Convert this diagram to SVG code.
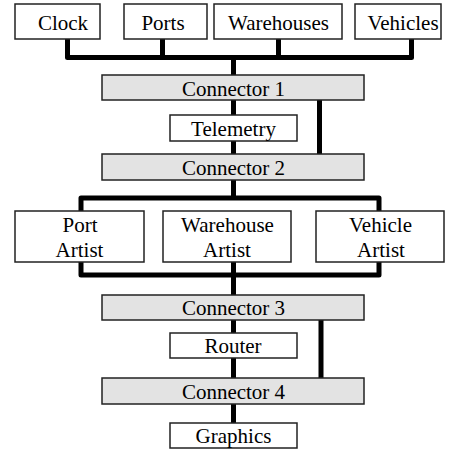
<svg xmlns="http://www.w3.org/2000/svg" width="452" height="452" viewBox="0 0 452 452">
<style>
.box{fill:#fff;stroke:#222;stroke-width:1.5}
.conn{fill:#e3e3e3;stroke:#222;stroke-width:1.5}
.ln{fill:none;stroke:#000;stroke-width:5;stroke-linejoin:round}
.t{font-family:"Liberation Serif","Times New Roman",serif;font-size:21px;text-anchor:middle;fill:#000}
</style>
<rect width="452" height="452" fill="#fff"/>
<g id="connectors">
<path class="ln" d="M67.5,39 V57.5 H411.5 V39 M162.5,39 V57.5 M278.5,39 V57.5 M233.5,57.5 V75"/>
<path class="ln" d="M233.5,100 V115 M233.5,141 V154 M319.5,100 V154"/>
<path class="ln" d="M233.5,180 V198 M81,211 V198 H379 V211"/>
<path class="ln" d="M81,262 V275 H379 V262 M233.5,262 V295"/>
<path class="ln" d="M233.5,320 V333 M233.5,358 V378 M321,320 V378"/>
<path class="ln" d="M233.5,404 V423"/>
</g>
<g id="clock"><rect class="box" x="15" y="4" width="85" height="35"/><text class="t" x="63" y="30">Clock</text></g>
<g id="ports"><rect class="box" x="124" y="4" width="83" height="35"/><text class="t" x="163" y="30">Ports</text></g>
<g id="warehouses"><rect class="box" x="214" y="4" width="128" height="35"/><text class="t" x="278.5" y="30">Warehouses</text></g>
<g id="vehicles"><rect class="box" x="355" y="4" width="86" height="35"/><text class="t" x="403" y="30">Vehicles</text></g>
<g id="connector1"><rect class="conn" x="102" y="75" width="262" height="25"/><text class="t" x="233.5" y="95.5">Connector 1</text></g>
<g id="telemetry"><rect class="box" x="170" y="115" width="127" height="26"/><text class="t" x="233.5" y="135.5">Telemetry</text></g>
<g id="connector2"><rect class="conn" x="102" y="154" width="262" height="26"/><text class="t" x="233.5" y="175">Connector 2</text></g>
<g id="port-artist"><rect class="box" x="15" y="211" width="129" height="51"/><text class="t" x="80" y="232">Port</text><text class="t" x="79.5" y="257">Artist</text></g>
<g id="warehouse-artist"><rect class="box" x="163" y="211" width="128" height="51"/><text class="t" x="227.5" y="232">Warehouse</text><text class="t" x="227" y="257">Artist</text></g>
<g id="vehicle-artist"><rect class="box" x="316" y="211" width="128" height="51"/><text class="t" x="380.5" y="232">Vehicle</text><text class="t" x="381" y="257">Artist</text></g>
<g id="connector3"><rect class="conn" x="102" y="295" width="262" height="25"/><text class="t" x="233.5" y="315">Connector 3</text></g>
<g id="router"><rect class="box" x="170" y="333" width="127" height="25"/><text class="t" x="233" y="353">Router</text></g>
<g id="connector4"><rect class="conn" x="102" y="378" width="262" height="26"/><text class="t" x="233.5" y="399">Connector 4</text></g>
<g id="graphics"><rect class="box" x="170" y="423" width="127" height="25"/><text class="t" x="233.5" y="443">Graphics</text></g>
</svg>
